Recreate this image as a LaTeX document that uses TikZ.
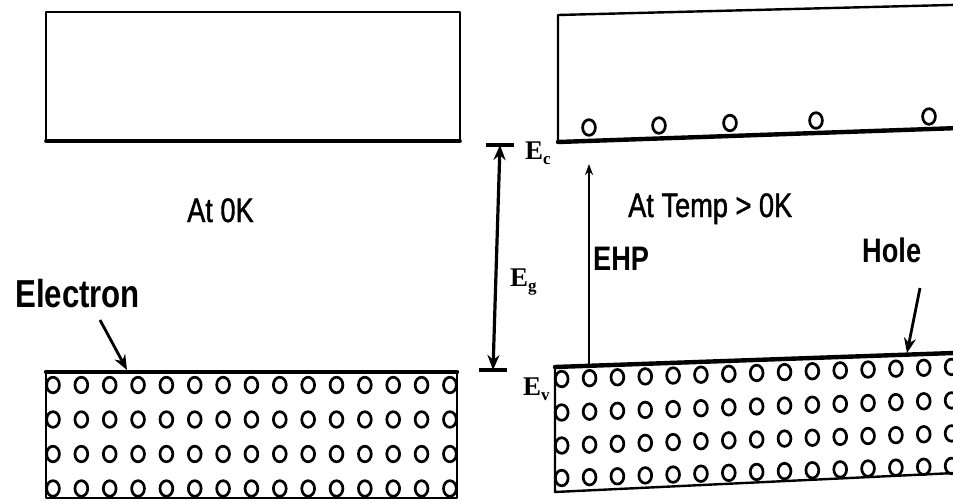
\documentclass[tikz,border=0pt]{standalone}
\usepackage{fontspec}
\usetikzlibrary{arrows.meta}
\newfontfamily\labfont[FakeStretch=0.8]{Liberation Sans}
\newfontfamily\labfontr[FakeStretch=0.8,FakeBold=1.2]{Liberation Sans}
\newfontfamily\efont{Liberation Serif}
\begin{document}
\begin{tikzpicture}[x=1pt,y=-1pt,
  thinline/.style={line width=2.4pt, line join=round, line cap=round},
  thickline/.style={line width=4.4pt, line cap=round},
  circ/.style={line width=2.7pt},
  lbl/.style={inner sep=0pt, anchor=base west, font=\labfontr\fontsize{34}{40}\selectfont},
  lblb/.style={inner sep=0pt, anchor=base west, font=\labfont\bfseries\fontsize{34}{40}\selectfont},
  elbl/.style={inner sep=0pt, anchor=base west, font=\efont\bfseries\fontsize{27}{30}\selectfont},
  bigarrow/.style={line width=2.8pt, -{Stealth[length=15pt,width=12pt]}},
  ehparrow/.style={line width=1.9pt, -{Stealth[length=11pt,width=8pt]}}
]
\useasboundingbox (0,0) rectangle (953,501);
\clip (0,0) rectangle (953,501);

% ---------- left: conduction band at 0K ----------
\draw[thinline] (46,141) -- (46,12) -- (460,12) -- (460,141);
\draw[line width=3.6pt, line cap=round] (46,141) -- (460,141);

% ---------- left: valence band at 0K ----------
\draw[thinline] (46,372) -- (46,498) -- (457,498) -- (457,372);
\draw[thickline] (46,372) -- (457,372);
\foreach \i in {0,...,14}
  \foreach \r in {385,419.5,454,488.5}
    \draw[circ] ({53+28.35*\i},\r) ellipse [x radius=6.4pt, y radius=7.8pt];

% ---------- right: conduction band ----------
\draw[thinline] (558,142) -- (558,15) -- (965,4.6);
\draw[thickline] (558,142) -- (965,127.8);
\foreach \cx/\cy in {589/127.5, 659/125.5, 730/123, 816/120.5, 929/116.5}
  \draw[circ] (\cx,\cy) ellipse [x radius=6.4pt, y radius=7.8pt];

% ---------- right: valence band ----------
\draw[thinline] (555,367) -- (555,492) -- (965,472.5);
\draw[thickline] (555,367) -- (965,352.6);
\foreach \i in {0,...,14}{
  \pgfmathsetmacro\cx{561.7+27.85*\i}
  \pgfmathsetmacro\dd{0.031*27.85*\i}
  \foreach \r in {379,412.5,445.5,478}
    \draw[circ] (\cx,\r-\dd) ellipse [x radius=6.4pt, y radius=7.8pt];
}

% ---------- labels ----------
\node[lbl]  (at0)   at (187,222) {At 0K};
\node[lbl]  (atT)   at (628,217) {At Temp > 0K};
\node[lblb] (elec)  at (15,307)  {\fontsize{39}{44}\selectfont Electron};
\node[lblb] (ehp)   at (593,270) {EHP};
\node[lblb] (hole)  at (862,262) {Hole};

\node[elbl] (Ec) at (525,159) {E\raisebox{-5pt}{\fontsize{17}{17}\selectfont c}};
\node[elbl] (Eg) at (510,286) {E\raisebox{-5pt}{\fontsize{17}{17}\selectfont g}};
\node[elbl] (Ev) at (523,395) {E\raisebox{-5pt}{\fontsize{17}{17}\selectfont v}};

% ---------- arrows ----------
\coordinate (eTail) at (100,320);
\coordinate (eTip)  at (127,370);
\draw[bigarrow] (eTail) -- (eTip);

\coordinate (hTail) at (920,288);
\coordinate (hTip)  at (907,353);
\draw[bigarrow] (hTail) -- (hTip);

\coordinate (ehpBot) at (589,367);
\coordinate (ehpTop) at (589,164);
\draw[ehparrow] (ehpBot) -- (ehpTop);

\coordinate (gTop) at (500,145);
\coordinate (gBot) at (493,370);
\draw[line width=3.6pt] ([xshift=-14pt]gTop) -- ([xshift=14pt]gTop);
\draw[line width=3.6pt] ([xshift=-14pt]gBot) -- ([xshift=14pt]gBot);
\draw[line width=3.2pt, {Stealth[length=15pt,width=12pt]}-{Stealth[length=15pt,width=12pt]}] (gTop) -- (gBot);
\end{tikzpicture}
\end{document}
